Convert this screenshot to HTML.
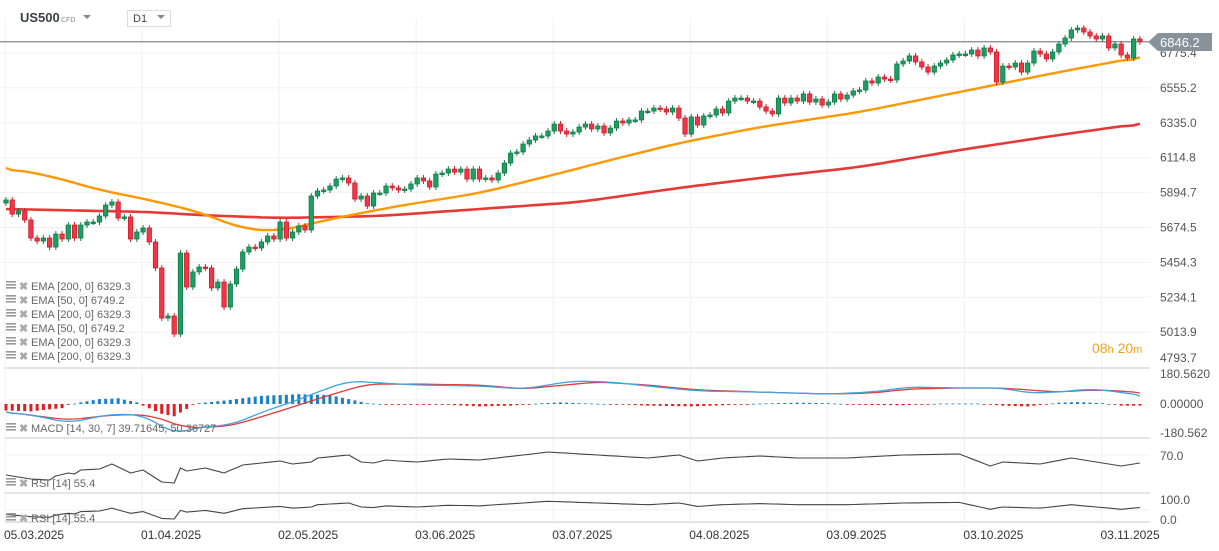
<!DOCTYPE html>
<html><head><meta charset="utf-8">
<style>
html,body{margin:0;padding:0;background:#fff;}
body{width:1219px;height:551px;overflow:hidden;position:relative;font-family:"Liberation Sans",sans-serif;}
svg{position:absolute;left:0;top:0;}
</style></head>
<body>
<svg id="chart" width="1219" height="551" viewBox="0 0 1219 551" font-family="Liberation Sans, sans-serif"></svg>
<script>
const opens0 = 5829;
const closes = [5848,5759,5778,5722,5608,5589,5608,5551,5633,5602,5690,5608,5690,5709,5709,5747,5816,5835,5734,5741,5602,5646,5671,5583,5419,5103,5116,5002,5513,5299,5394,5425,5419,5293,5330,5173,5318,5412,5520,5551,5545,5583,5621,5602,5709,5608,5646,5684,5659,5873,5905,5911,5936,5980,5987,5955,5854,5873,5810,5892,
5892,5936,5924,5911,5917,5949,5987,5968,5930,6012,6018,6043,6024,6043,5980,6043,5980,5987,5974,6018,6081,6144,6151,6201,6226,6252,6252,6283,6327,6283,6264,6277,6308,6327,6296,6315,6271,6302,6346,6334,6353,6353,6409,6409,6428,6422,6403,6428,6365,6264,6372,6321,6378,6384,6422,6397,6472,6491,6491,6472,6472,6435,6409,6391,6491,
6460,6491,6472,6517,6466,6485,6447,6466,6517,6485,6510,6536,6542,6599,6586,6624,6611,6605,6706,6725,6757,6719,6687,6655,6693,6712,6731,6763,6769,6769,6794,6757,6807,6782,6592,6693,6687,6712,6655,6712,6788,6769,6738,6782,6832,6870,6921,6933,6908,6883,6864,6883,6807,6832,6763,6744,6864,6846.2];
const priceTicks = [6775.4,6555.2,6335.0,6114.8,5894.7,5674.5,5454.3,5234.1,5013.9,4793.7];
const dateLabels = ["05.03.2025","01.04.2025","02.05.2025","03.06.2025","03.07.2025","04.08.2025","03.09.2025","03.10.2025","03.11.2025"];
const dateIdx = [0,22,44,66,88,110,132,154,176];
const ema50Idx = [0,7,15,23,31,38,44,50,57,63,76,89,97,108,121,137,153,169,182];
const ema50Val = [6050,6000,5911,5848,5772,5665,5652,5709,5766,5810,5892,6018,6100,6207,6308,6403,6529,6655,6749.2];
const ema200Idx = [0,23,31,44,60,76,92,108,121,137,153,169,182];
const ema200Val = [5791,5772,5753,5734,5747,5791,5835,5924,5987,6056,6163,6258,6329.3];
const macdIdx = [0,5,10,17,22,27,31,36,42,46,50,55,60,66,76,83,91,97,103,111,121,132,139,145,153,160,164,169,174,179,182];
const macdVal = [-49,-73,-116,-61,-67,-184,-141,-129,-37,12,73,141,129,116,110,92,141,135,110,80,73,61,73,104,98,98,67,73,92,73,49];
const sigIdx = [0,10,17,23,29,36,43,47,52,58,66,76,83,95,103,111,121,132,139,145,153,160,164,169,174,179,182];
const sigVal = [-49,-98,-67,-67,-147,-135,-55,-6,55,122,122,116,92,135,116,86,73,61,67,92,98,98,86,73,86,80,67];
const histIdx = [0,4,9,10,12,15,18,21,22,25,27,29,30,31,36,41,47,52,55,58,62,70,76,81,86,89,92,99,103,110,115,121,127,132,137,144,150,156,160,164,169,172,176,179,182];
const histVal = [-40,-45,-25,-5,10,30,35,10,-10,-60,-75,-30,-5,5,25,50,60,55,30,5,-5,-3,-15,-10,5,10,5,-3,-10,-15,-8,3,8,5,-5,-8,3,3,-10,-15,8,12,5,-10,-10];
const rsiIdx = [0,2,4,7,8,10,11,12,15,17,18,20,22,25,27,28,29,32,35,38,41,44,46,49,50,55,57,59,61,63,66,71,76,83,87,95,103,108,111,115,121,127,135,144,153,158,160,166,171,174,179,182];
const rsiVal = [32,28,24,22,30,36,34,42,44,54,48,36,42,18,16,46,40,46,36,52,56,60,54,58,66,72,58,56,62,60,58,64,62,72,78,72,66,72,60,66,70,66,66,72,74,50,58,54,66,60,50,56];

const svg = document.getElementById('chart');
const NS = 'http://www.w3.org/2000/svg';
function mk(tag, attrs, parent){const e=document.createElementNS(NS,tag);for(const k in attrs)e.setAttribute(k,attrs[k]);(parent||svg).appendChild(e);return e;}
const xOf = i => 6 + i*6.23;
const yP = p => 53 + (6775.4 - p)/220.2*34.9;
const yM = v => 404 - v/6.12;
const yR1 = v => 456 + (70 - v)/2;
const yR2 = v => 503 + (yR1(v) - 455)*16/28;
function interp(idx, val){const out=[];for(let i=0;i<closes.length;i++){let k=0;while(k<idx.length-2&&idx[k+1]<i)k++;const a=idx[k],b=idx[k+1];const t=b===a?0:Math.min(1,Math.max(0,(i-a)/(b-a)));out.push(val[k]+(val[k+1]-val[k])*t);}return out;}
function smooth(arr, r){return arr.map((v,i)=>{let s=0,n=0;for(let j=i-r;j<=i+r;j++){if(j>=0&&j<arr.length){s+=arr[j];n++;}}return (i===0||i===arr.length-1)?v:s/n;});}

// grids
for (const p of priceTicks.slice(0,9)) { const g=mk('line',{x1:0,x2:1150,y1:yP(p),y2:yP(p),stroke:'#f0f0f0'});

 }
dateIdx.forEach(i=>{ const g=mk('line',{x1:xOf(i)-1,x2:xOf(i)-1,y1:18,y2:522,stroke:'#f0f0f0'});

 });
[368,438,493,522].forEach(y=>{ const s=mk('line',{x1:5,x2:1150,y1:y,y2:y,stroke:'#dcdcdc','stroke-width':1.5});

 });
[400,455,510].forEach(y=>{ const g=mk('line',{x1:5,x2:1150,y1:y,y2:y,stroke:'#f2f2f2'});

 });

function poly(vals, yf, color, w, name){const pts=vals.map((v,i)=>xOf(i).toFixed(1)+','+yf(v).toFixed(1)).join(' ');const e=mk('polyline',{points:pts,fill:'none',stroke:color,'stroke-width':w,'stroke-linejoin':'round'});


return e;}
poly(smooth(interp(ema200Idx,ema200Val),3), yP, '#e53935', 2.6, 'ema-200-line');
poly(smooth(interp(ema50Idx,ema50Val),3), yP, '#ff9800', 2.4, 'ema-50-line');

const cl=mk('line',{x1:0,x2:1150,y1:yP(closes[closes.length-1]),y2:yP(closes[closes.length-1]),stroke:'#7d898f','stroke-width':1.2});



closes.forEach((c,i)=>{
  const o = i===0 ? opens0 : closes[i-1];
  const up = c>=o;
  const top=Math.min(yP(o),yP(c)), bot=Math.max(yP(o),yP(c));
  const x=xOf(i);
  const fill = up ? '#1e9e63' : '#f23645';
  const stroke = up ? '#137a48' : '#c81e2e';
  const w=mk('line',{x1:x,x2:x,y1:top-3,y2:bot+3,stroke:stroke,'stroke-width':1});
  
  
  const b=mk('rect',{x:x-2.2,y:top,width:4.4,height:Math.max(1.5,bot-top),fill:fill,stroke:stroke,'stroke-width':0.8});
  
  
});

interp(histIdx,histVal).forEach((v,i)=>{
  const y0=yM(0), y1=yM(v);
  const r=mk('rect',{x:xOf(i)-1.5,y:Math.min(y0,y1),width:3,height:Math.max(0.8,Math.abs(y1-y0)),fill:v>=0?'#1b7fc4':'#e01e1e'});
  
  
});
poly(smooth(interp(sigIdx,sigVal),2), yM, '#e53935', 1.3, 'macd-signal-line');
poly(smooth(interp(macdIdx,macdVal),2), yM, '#3fa3e0', 1.3, 'macd-line');
const rv=interp(rsiIdx,rsiVal);
poly(rv, yR1, '#444', 1.1, 'rsi-line-1');
poly(rv, yR2, '#444', 1.1, 'rsi-line-2');

priceTicks.forEach((p,k)=>{ const t=mk('text',{x:1160,y:(k===9?362:yP(p)+4),'font-size':12,fill:'#555'}); t.textContent=p.toFixed(1);

 });
dateIdx.forEach((i,k)=>{ const t=mk('text',{x:xOf(i)-2,y:539,'font-size':12,fill:'#333'}); t.textContent=dateLabels[k];

 });
[['180.5620',378],['0.00000',408],['-180.562',437],['70.0',460],['100.0',504],['0.0',524]].forEach(a=>{const t=mk('text',{x:1160,y:a[1],'font-size':12,fill:'#555'});t.textContent=a[0];

});

const tag=mk('path',{d:'M1148,42 L1158,33 L1212,33 L1212,51 L1158,51 Z',fill:'#87929a'});


const tt=mk('text',{x:1160,y:47,'font-size':13,fill:'#fff'}); tt.textContent=closes[closes.length-1].toFixed(1);



const legendRows=['EMA [200,  0] 6329.3','EMA [50,  0] 6749.2','EMA [200,  0] 6329.3','EMA [50,  0] 6749.2','EMA [200,  0] 6329.3','EMA [200,  0] 6329.3'];
function legendRow(y, text, name){
  const g=mk('g',{});
  
  
  for(let j=0;j<3;j++) mk('rect',{x:6,y:y-9+j*3,width:10,height:1.6,fill:'#9a9a9a'},g);
  const x=mk('text',{x:19,y:y,'font-size':11,'font-weight':'bold',fill:'#aaa'},g); x.textContent='✖';
  const t=mk('text',{x:31,y:y,'font-size':11,fill:'#666'},g); t.textContent=text;
}
legendRows.forEach((r,k)=>legendRow(290+k*14, r, 'legend-entry'));
legendRow(432,'MACD [14, 30, 7] 39.71645, 50.36727','macd-legend');
legendRow(487,'RSI [14]  55.4','rsi-legend');
legendRow(522,'RSI [14]  55.4','rsi-legend-2');

const cd=mk('text',{x:1092,y:353,'font-size':14,fill:'#f7a21b'});


cd.innerHTML='08<tspan font-size="11">h</tspan> 20<tspan font-size="11">m</tspan>';

const sym=mk('text',{x:20,y:22,'font-size':13,'font-weight':'bold',fill:'#3a3f44'}); sym.textContent='US500';


const cfd=mk('text',{x:61,y:22,'font-size':7,fill:'#888'}); cfd.textContent='CFD';


const dd=mk('path',{d:'M83,15 L91,15 L87,19 Z',fill:'#888'});


const tfb=mk('rect',{x:127.5,y:10.5,width:43,height:16,fill:'#fff',stroke:'#ddd'});


const tft=mk('text',{x:133,y:22,'font-size':11,fill:'#444'}); tft.textContent='D1';


const tfa=mk('path',{d:'M157,15 L165,15 L161,19 Z',fill:'#888'});


</script>
</body></html>
